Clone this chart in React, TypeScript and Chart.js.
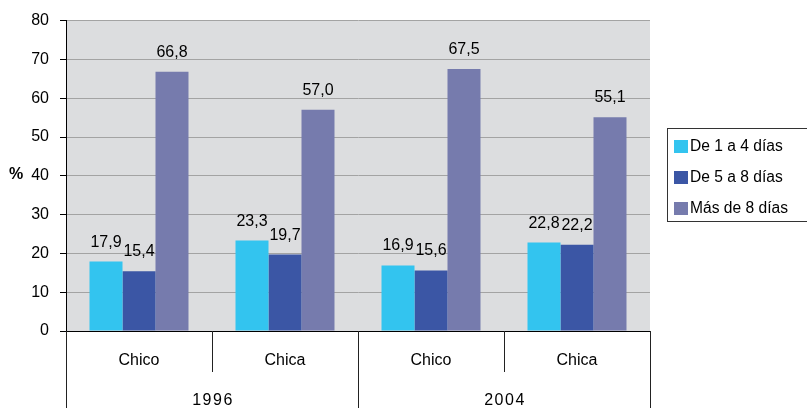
import React, { useEffect, useRef } from "react";
import Chart from "chart.js/auto";

const categories = ["Chico", "Chica", "Chico", "Chica"];
const years = ["1996", "2004"];
const seriesNames = ["De 1 a 4 días", "De 5 a 8 días", "Más de 8 días"];
const serie1a4 = [17.9, 23.3, 16.9, 22.8];
const serie5a8 = [15.4, 19.7, 15.6, 22.2];
const serieMas8 = [66.8, 57.0, 67.5, 55.1];
const seriesColors = ["#33C4EF", "#3B56A5", "#767BAD"];
const yTicksMax = 80;

const FONT = "'Liberation Sans', Arial, sans-serif";

export default function App() {
  const ref = useRef<HTMLCanvasElement | null>(null);
  useEffect(() => {
    const canvas = ref.current;
    if (!canvas) return;
    const fmt = (v: number) => v.toFixed(1).replace(".", ",");
    const plugin = {
      id: "custom",
      beforeDraw(chart: any) {
        const { ctx, chartArea } = chart;
        ctx.save();
        ctx.fillStyle = "#DCDDDF";
        ctx.fillRect(chartArea.left, chartArea.top, chartArea.right - chartArea.left, chartArea.bottom - chartArea.top);
        ctx.restore();
      },
      afterDatasetsDraw(chart: any) {
        const { ctx } = chart;
        ctx.save();
        ctx.font = `16px ${FONT}`;
        ctx.fillStyle = "#000";
        ctx.textAlign = "center";
        ctx.textBaseline = "alphabetic";
        chart.data.datasets.forEach((ds: any, di: number) => {
          const meta = chart.getDatasetMeta(di);
          meta.data.forEach((el: any, i: number) => {
            ctx.fillText(fmt(ds.data[i]), el.x, el.y - 15);
          });
        });
        ctx.restore();
      },
      afterDraw(chart: any) {
        const { ctx, chartArea } = chart;
        const n = categories.length;
        const w = (chartArea.right - chartArea.left) / n;
        const bottom = chartArea.bottom;
        ctx.save();
        // separators
        ctx.strokeStyle = "#222";
        ctx.lineWidth = 1;
        for (let k = 0; k <= n; k++) {
          const x = Math.round(chartArea.left + k * w) + 0.5;
          const long = k % 2 === 0;
          ctx.beginPath();
          ctx.moveTo(x, bottom);
          ctx.lineTo(x, long ? 408 : 372);
          ctx.stroke();
        }
        // category labels
        ctx.fillStyle = "#000";
        ctx.font = `16px ${FONT}`;
        ctx.textAlign = "center";
        ctx.textBaseline = "middle";
        categories.forEach((c, i) => {
          ctx.fillText(c, chartArea.left + (i + 0.5) * w, 361);
        });
        (ctx as any).letterSpacing = "1.5px";
        years.forEach((y, j) => {
          ctx.fillText(y, chartArea.left + (2 * j + 1) * w + 1, 401);
        });
        (ctx as any).letterSpacing = "0px";
        // % label
        ctx.font = `bold 16px ${FONT}`;
        ctx.fillText("%", 16, 175);
        // legend
        ctx.strokeStyle = "#333";
        ctx.strokeRect(667.5, 128.5, 170, 93);
        ctx.font = `15.6px ${FONT}`;
        ctx.textAlign = "left";
        const rows = [146, 177, 208];
        seriesNames.forEach((s, i) => {
          ctx.fillStyle = seriesColors[i];
          ctx.fillRect(674, rows[i] - 6, 14, 13);
          ctx.fillStyle = "#000";
          ctx.fillText(s, 690, rows[i] + 1);
        });
        ctx.restore();
      },
    };
    const chart = new Chart(canvas, {
      type: "bar",
      data: {
        labels: categories,
        datasets: [
          { label: seriesNames[0], data: serie1a4, backgroundColor: seriesColors[0] },
          { label: seriesNames[1], data: serie5a8, backgroundColor: seriesColors[1] },
          { label: seriesNames[2], data: serieMas8, backgroundColor: seriesColors[2] },
        ],
      },
      options: {
        responsive: false,
        animation: false,
        devicePixelRatio: 1,
        layout: { padding: { top: 19, right: 157, left: 0, bottom: 0 } },
        datasets: { bar: { categoryPercentage: 0.678, barPercentage: 1 } },
        plugins: { legend: { display: false }, tooltip: { enabled: false } },
        scales: {
          x: {
            ticks: { display: false },
            grid: { display: false },
            border: { display: false },
            afterFit: (s: any) => { s.height = 77; },
          },
          y: {
            min: 0,
            max: yTicksMax,
            ticks: { stepSize: 10, color: "#000", font: { size: 16, family: FONT }, padding: 11 },
            grid: {
              color: (c: any) => (c.tick && c.tick.value === 0 ? "#000" : "#A3A3A3"),
              tickColor: "#000",
              tickLength: 6,
              lineWidth: 1,
            },
            border: { color: "#000" },
            afterFit: (s: any) => { s.width = 66; },
          },
        },
      },
      plugins: [plugin],
    } as any);
    return () => chart.destroy();
  }, []);
  return (
    <div style={{ position: "absolute", left: 0, top: 0, width: 807, height: 408, background: "#fff" }}>
      <canvas ref={ref} width={807} height={408} style={{ display: "block" }} />
    </div>
  );
}
